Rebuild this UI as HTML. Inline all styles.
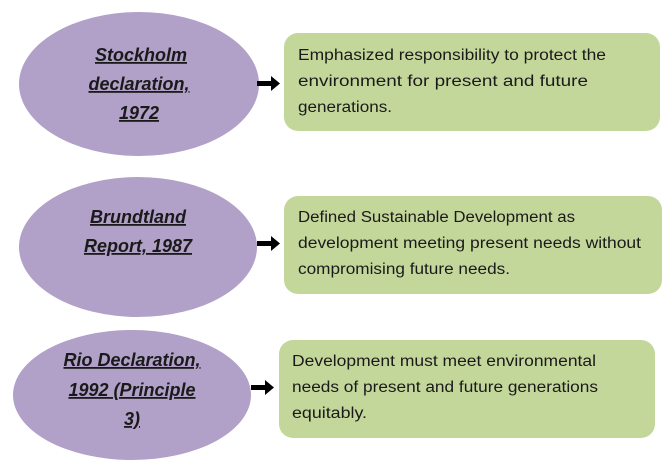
<!DOCTYPE html>
<html><head><style>html,body{margin:0;padding:0;background:#fff}svg{display:block}</style></head>
<body>
<svg width="668" height="467" viewBox="0 0 668 467" xmlns="http://www.w3.org/2000/svg" font-family="'Liberation Sans', sans-serif">
<rect width="668" height="467" fill="#fff"/>
<g fill="#b1a0c7">
<ellipse cx="139" cy="84" rx="120" ry="72"/>
<ellipse cx="138" cy="247" rx="119" ry="70"/>
<ellipse cx="132" cy="395" rx="119" ry="65"/>
</g>
<g fill="#c4d79b">
<rect x="284" y="33" width="376" height="98" rx="14"/>
<rect x="284" y="196" width="378" height="98" rx="14"/>
<rect x="279" y="340" width="376" height="98" rx="14"/>
</g>
<g fill="#000">
<rect x="257" y="81" width="15" height="5"/><polygon points="271,76 280,83.5 271,91"/>
<rect x="257" y="241" width="15" height="5"/><polygon points="271,236 280,243.5 271,251"/>
<rect x="251" y="385" width="15" height="5"/><polygon points="265,380 274,387.5 265,395"/>
</g>
<g font-weight="bold" font-style="italic" text-decoration="underline" font-size="18" fill="#1a1a1a" text-anchor="middle">
<text x="141" y="61">Stockholm</text>
<text x="139" y="90">declaration,</text>
<text x="139" y="119">1972</text>
<text x="138" y="223">Brundtland</text>
<text x="138" y="252">Report, 1987</text>
<text x="132" y="366">Rio Declaration,</text>
<text x="132" y="396">1992 (Principle</text>
<text x="132" y="425">3)</text>
</g>
<g fill="#1a1a1a">
<text font-size="15.5" x="298" y="60" textLength="308" lengthAdjust="spacingAndGlyphs">Emphasized responsibility to protect the</text>
<text font-size="15.5" x="298" y="86" textLength="290" lengthAdjust="spacingAndGlyphs">environment for present and future</text>
<text font-size="15.5" x="298" y="112" textLength="94" lengthAdjust="spacingAndGlyphs">generations.</text>
<text font-size="15.5" x="298" y="222" textLength="277" lengthAdjust="spacingAndGlyphs">Defined Sustainable Development as</text>
<text font-size="15.5" x="298" y="248" textLength="343" lengthAdjust="spacingAndGlyphs">development meeting present needs without</text>
<text font-size="15.5" x="298" y="274" textLength="212" lengthAdjust="spacingAndGlyphs">compromising future needs.</text>
<text font-size="15.5" x="292" y="366" textLength="304" lengthAdjust="spacingAndGlyphs">Development must meet environmental</text>
<text font-size="15.5" x="292" y="392" textLength="306" lengthAdjust="spacingAndGlyphs">needs of present and future generations</text>
<text font-size="15.5" x="292" y="418" textLength="75" lengthAdjust="spacingAndGlyphs">equitably.</text>
</g>
</svg>
</body></html>
